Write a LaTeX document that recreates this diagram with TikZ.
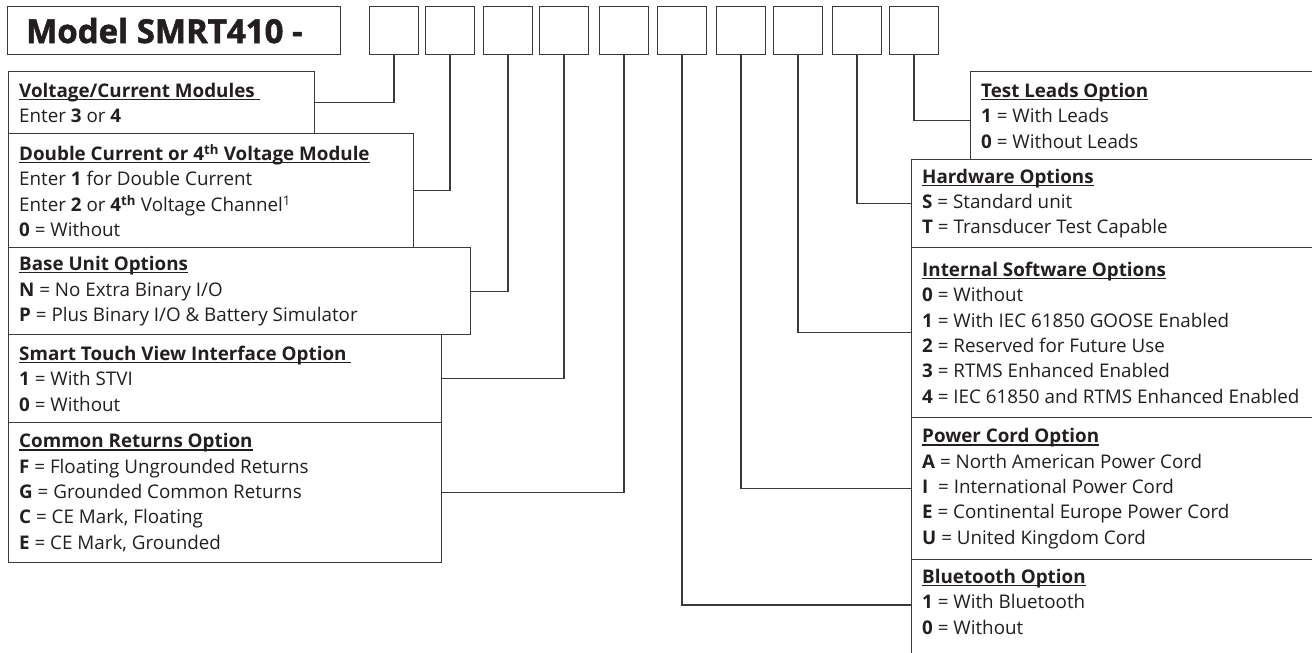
\documentclass[tikz,border=0pt]{standalone}
\usepackage{fontspec}
\setmainfont{Open Sans}
\newfontfamily\titlefont[BoldFeatures={FakeBold=1.6}]{Open Sans}
\usetikzlibrary{calc}
\definecolor{linecol}{HTML}{3A3A3A}
\definecolor{textcol}{HTML}{231F20}
\newcommand\hdr[1]{\setbox0=\hbox{\bfseries #1}\leavevmode\rlap{\rule[-2.8pt]{\wd0}{1.2pt}}\box0}
\tikzset{
  frame/.style={draw=linecol, line width=1.3pt, inner sep=0pt, anchor=north west, fill=white},
  digit/.style={frame, minimum width=48.5pt, minimum height=48pt},
  txt/.style={anchor=west, inner sep=0pt, align=left, text=textcol,
    font={\fontsize{18.8}{25.4}\selectfont}},
  conn/.style={draw=linecol, line width=1.3pt},
}
\begin{document}
\begin{tikzpicture}[x=1pt,y=-1pt]
\useasboundingbox (0,0) rectangle (1312,653);
% title and digit boxes
\node[frame, minimum width=333pt, minimum height=48pt] (title) at (7,6) {};
\node[anchor=west, inner sep=0pt, text=textcol, font={\fontsize{33}{33}\titlefont\bfseries}] (titletext) at ([xshift=19pt]title.west) {Model SMRT410 -};
\node[digit] (b1) at (369,6) {};
\node[digit] (b2) at (425,6) {};
\node[digit] (b3) at (483,6) {};
\node[digit] (b4) at (539,6) {};
\node[digit] (b5) at (599,6) {};
\node[digit] (b6) at (657,6) {};
\node[digit] (b7) at (716,6) {};
\node[digit] (b8) at (773,6) {};
\node[digit] (b9) at (832,6) {};
\node[digit] (b10) at (889,6) {};
% left option boxes
\node[frame, minimum width=306pt, minimum height=62pt] (vc) at (8,71) {};
\node[frame, minimum width=405pt, minimum height=114pt] (dc) at (8,133) {};
\node[frame, minimum width=462pt, minimum height=87pt] (bu) at (8,247) {};
\node[frame, minimum width=433pt, minimum height=88pt] (st) at (8,334) {};
\node[frame, minimum width=433pt, minimum height=140pt] (cr) at (8,422) {};
% right option boxes
\node[frame, minimum width=360pt, minimum height=88pt] (tl) at (970,71) {};
\node[frame, minimum width=420pt, minimum height=88pt] (hw) at (911,159) {};
\node[frame, minimum width=420pt, minimum height=170pt] (is) at (911,247) {};
\node[frame, minimum width=420pt, minimum height=142pt] (pc) at (911,417) {};
\node[frame, minimum width=420pt, minimum height=100pt] (bt) at (911,559) {};
% texts
\node[txt] (vct) at ([xshift=11pt]vc.west) {\hdr{Voltage/Current Modules\ }\\Enter \textbf{3} or \textbf{4}};
\node[txt] (dct) at ([xshift=11pt]dc.west) {\hdr{Double Current or 4\textsuperscript{th} Voltage Module}\\Enter \textbf{1} for Double Current\\Enter \textbf{2} or \textbf{4\textsuperscript{th}} Voltage Channel\textsuperscript{1}\\\textbf{0} = Without};
\node[txt] (but) at ([xshift=11pt]bu.west) {\hdr{Base Unit Options}\\\textbf{N} = No Extra Binary I/O\\\textbf{P} = Plus Binary I/O \& Battery Simulator};
\node[txt] (stt) at ([xshift=11pt]st.west) {\hdr{Smart Touch View Interface Option\ }\\\textbf{1} = With STVI\\\textbf{0} = Without};
\node[txt] (crt) at ([xshift=11pt]cr.west) {\hdr{Common Returns Option}\\\textbf{F} = Floating Ungrounded Returns\\\textbf{G} = Grounded Common Returns\\\textbf{C} = CE Mark, Floating\\\textbf{E} = CE Mark, Grounded};
\node[txt] (tlt) at ([xshift=11pt]tl.west) {\hdr{Test Leads Option}\\\textbf{1} = With Leads\\\textbf{0} = Without Leads};
\node[txt] (hwt) at ([xshift=11pt]hw.west) {\hdr{Hardware Options}\\\textbf{S} = Standard unit\\\textbf{T} = Transducer Test Capable};
\node[txt] (ist) at ([xshift=11pt]is.west) {\hdr{Internal Software Options}\\\textbf{0} = Without\\\textbf{1} = With IEC 61850 GOOSE Enabled\\\textbf{2} = Reserved for Future Use\\\textbf{3} = RTMS Enhanced Enabled\\\textbf{4} = IEC 61850 and RTMS Enhanced Enabled};
\node[txt] (pct) at ([xshift=11pt]pc.west) {\hdr{Power Cord Option}\\\textbf{A} = North American Power Cord\\\textbf{I}\ \ = International Power Cord\\\textbf{E} = Continental Europe Power Cord\\\textbf{U} = United Kingdom Cord};
\node[txt, anchor=north west] (btt) at ([xshift=11pt,yshift=-10pt]bt.north west) {\hdr{Bluetooth Option}\\\textbf{1} = With Bluetooth\\\textbf{0} = Without};
% connectors
\draw[conn] (b1.south) |- (vc.east);
\draw[conn] (b2.south) |- (dc.east);
\draw[conn] (b3.south) |- (bu.east);
\draw[conn] (b4.south) |- (st.east);
\draw[conn] (b5.south) |- (cr.east);
\draw[conn] (b6.south) |- ($(bt.north west)+(0,46)$);
\draw[conn] (b7.south) |- (pc.west);
\draw[conn] (b8.south) |- (is.west);
\draw[conn] (b9.south) |- (hw.west);
\draw[conn] (b10.south) |- ($(tl.west)+(0,5)$);
\end{tikzpicture}
\end{document}
